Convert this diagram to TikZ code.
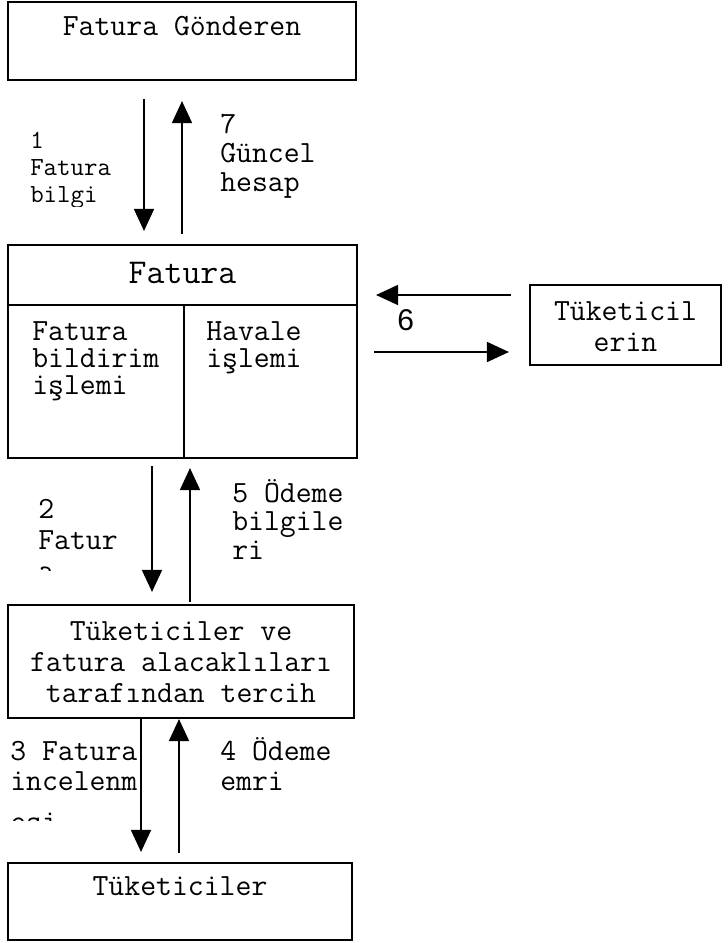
\documentclass[tikz,border=0pt]{standalone}
\usepackage{fontspec}
\newfontfamily\sixfont{Liberation Sans}
\usetikzlibrary{arrows.meta}
\newcommand\stackL[1]{\vtop{\lineskiplimit=-\maxdimen\halign{##\hfil\cr#1\crcr}}}
\newcommand\stackC[1]{\vtop{\lineskiplimit=-\maxdimen\halign{\hfil##\hfil\cr#1\crcr}}}
\begin{document}
\begin{tikzpicture}[x=0.75pt,y=-0.75pt,
  box/.style={draw, line width=1.6pt, rectangle, inner sep=0pt, anchor=center},
  arr/.style={line width=1.3pt, -{Triangle[length=16.5pt,width=15pt]}},
  lbl/.style={anchor=base west, inner sep=0pt}]
\useasboundingbox (0,0) rectangle (728,943);
% boxes
\node[box, minimum width=261pt, text height=24.75pt, text depth=33.75pt,
      font=\ttfamily\fontsize{23.14}{24}\selectfont] (g) at (182,41) {Fatura Gönderen};
\node[box, minimum width=261.75pt, text height=28.5pt, text depth=16.5pt,
      font=\ttfamily\fontsize{26.1}{28}\selectfont] (fh) at (182.5,275) {Fatura};
\node[box, minimum width=132pt, minimum height=114.75pt] (fl) at (96,381.5) {};
\node[box, minimum width=129.75pt, minimum height=114.75pt] (fr) at (270.5,381.5) {};
\node[lbl, font=\ttfamily\fontsize{23.14}{20.6}\selectfont] (flt) at (32,340)
  {\stackL{Fatura\cr bildirim\cr işlemi}};
\node[lbl, font=\ttfamily\fontsize{23.14}{20.6}\selectfont] (frt) at (206,340)
  {\stackL{Havale\cr işlemi}};
\node[box, minimum width=143.25pt, text height=26.25pt, text depth=33.75pt,
      font=\ttfamily\fontsize{23.14}{23.25}\selectfont] (t) at (625.5,325)
  {\stackC{Tüketicil\cr erin}};
\node[box, minimum width=259.5pt, text height=26.25pt, text depth=58.5pt,
      font=\ttfamily\fontsize{23.14}{23.25}\selectfont] (c) at (181,661.5)
  {\stackC{Tüketiciler ve\cr fatura alacaklıları\cr tarafından tercih}};
\node[box, minimum width=258pt, text height=24pt, text depth=33.75pt,
      font=\ttfamily\fontsize{23.14}{24}\selectfont] (u) at (180,901.5) {Tüketiciler};
% labels
\begin{scope}
  \clip (0,100) rectangle (140,206);
  \node[lbl, font=\ttfamily\fontsize{19.6}{20.6}\selectfont] (l1) at (30,148)
    {\stackL{1\cr Fatura\cr bilgi}};
\end{scope}
\node[lbl, font=\ttfamily\fontsize{23.14}{21.75}\selectfont] (l7) at (220,133)
  {\stackL{7\cr Güncel\cr hesap}};
\begin{scope}
  \clip (0,480) rectangle (140,570);
  \node[lbl, font=\ttfamily\fontsize{23.14}{23.25}\selectfont] (l2) at (38,518)
    {\stackL{2\cr Fatur\cr a}};
\end{scope}
\node[lbl, font=\ttfamily\fontsize{23.14}{21.4}\selectfont] (l5) at (232,502)
  {\stackL{5 Ödeme\cr bilgile\cr ri}};
\begin{scope}
  \clip (0,730) rectangle (140,820);
  \node[lbl, font=\ttfamily\fontsize{23.14}{22.5}\selectfont] (l3) at (10,760)
    {\stackL{3 Fatura\cr incelenm\cr\noalign{\vskip 8.25pt} esi}};
\end{scope}
\node[lbl, font=\ttfamily\fontsize{23.14}{22.5}\selectfont] (l4) at (220,760)
  {\stackL{4 Ödeme\cr emri}};
\node[lbl, font=\sixfont\fontsize{22.5}{24}\selectfont] (six) at (397,330) {6};
% arrow positions
\coordinate (x1) at (144,0);
\coordinate (x7) at (182,0);
\coordinate (x2) at (152,0);
\coordinate (x5) at (190,0);
\coordinate (x3) at (141,0);
\coordinate (x4) at (179,0);
\coordinate (y6a) at (0,295);
\coordinate (y6b) at (0,352);
% arrows
\draw[arr, shorten <=13.5pt, shorten >=9.75pt] (x1 |- g.south) -- (x1 |- fh.north);
\draw[arr, shorten <=7.5pt, shorten >=15pt] (x7 |- fh.north) -- (x7 |- g.south);
\draw[arr, shorten <=5.25pt, shorten >=9pt] (x2 |- fl.south) -- (x2 |- c.north);
\draw[arr, shorten <=1.5pt, shorten >=6.75pt] (x5 |- c.north) -- (x5 |- fr.south);
\draw[arr, shorten >=7.5pt] (x3 |- c.south) -- (x3 |- u.north);
\draw[arr, shorten <=6.75pt] (x4 |- u.north) -- (x4 |- c.south);
\draw[arr, shorten <=13.5pt, shorten >=13.5pt] (y6a -| t.west) -- (y6a -| fr.east);
\draw[arr, shorten <=12pt, shorten >=15pt] (y6b -| fr.east) -- (y6b -| t.west);
\end{tikzpicture}
\end{document}
